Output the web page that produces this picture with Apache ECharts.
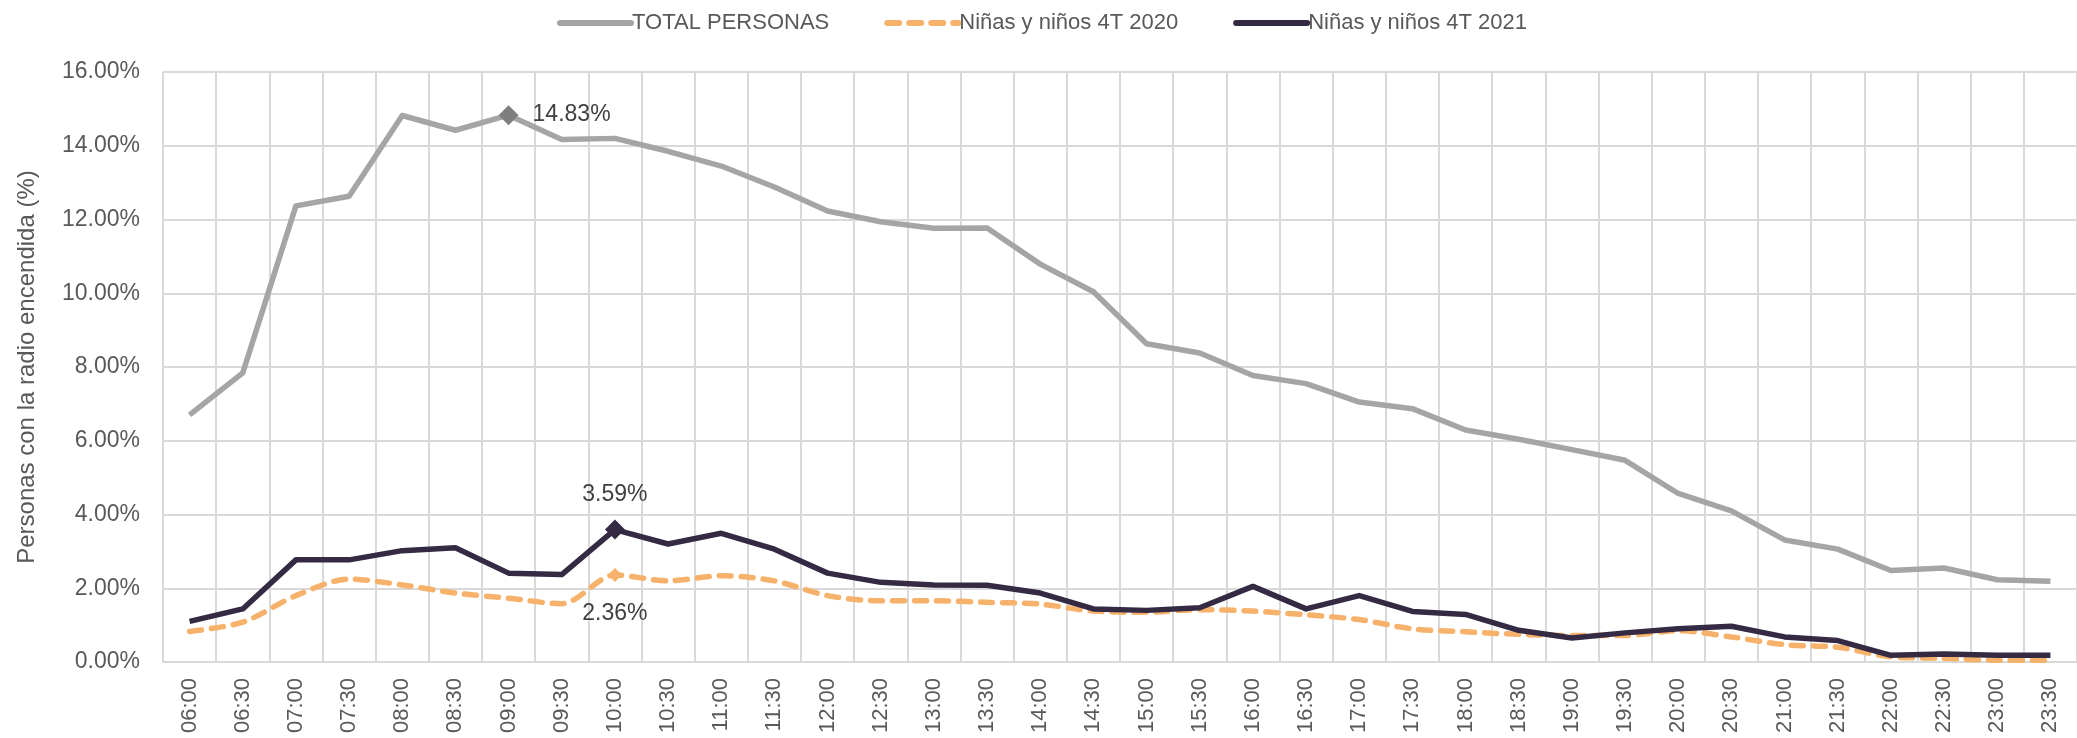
<!DOCTYPE html>
<html>
<head>
<meta charset="utf-8">
<script src="https://cdn.jsdelivr.net/npm/echarts@6/dist/echarts.min.js"></script>
<style>
  html, body { margin: 0; padding: 0; background: #fff; }
  #chart { width: 2077px; height: 738px; }
</style>
</head>
<body>
<div id="chart"></div>
<script>
// franjas horarias
var horas = ['06:00','06:30','07:00','07:30','08:00','08:30','09:00','09:30','10:00','10:30',
  '11:00','11:30','12:00','12:30','13:00','13:30','14:00','14:30','15:00','15:30',
  '16:00','16:30','17:00','17:30','18:00','18:30','19:00','19:30','20:00','20:30',
  '21:00','21:30','22:00','22:30','23:00','23:30'];

var totalPersonas = [6.70, 7.84, 12.37, 12.63, 14.82, 14.42, 14.83, 14.17, 14.20, 13.85,
  13.45, 12.88, 12.23, 11.94, 11.76, 11.77, 10.79, 10.04, 8.63, 8.38,
  7.77, 7.55, 7.05, 6.87, 6.29, 6.04, 5.76, 5.47, 4.57, 4.10,
  3.31, 3.06, 2.48, 2.55, 2.23, 2.19];

var ninos2020 = [0.83, 1.08, 1.80, 2.25, 2.09, 1.87, 1.73, 1.58, 2.36, 2.20,
  2.34, 2.20, 1.80, 1.66, 1.66, 1.62, 1.57, 1.38, 1.35, 1.42,
  1.38, 1.28, 1.15, 0.90, 0.82, 0.75, 0.72, 0.72, 0.85, 0.68,
  0.47, 0.40, 0.14, 0.10, 0.05, 0.05];

var ninos2021 = [1.10, 1.44, 2.77, 2.77, 3.02, 3.10, 2.41, 2.37, 3.59, 3.20,
  3.49, 3.06, 2.41, 2.16, 2.09, 2.08, 1.87, 1.44, 1.40, 1.47,
  2.05, 1.44, 1.80, 1.37, 1.29, 0.86, 0.65, 0.79, 0.90, 0.97,
  0.68, 0.58, 0.18, 0.22, 0.18, 0.18];

var yTicks = [0, 2, 4, 6, 8, 10, 12, 14, 16];

var fuente = 'Liberation Sans';

// marca un punto destacado con rombo + etiqueta
function destacar(valores, idx, marca, etiqueta) {
  return valores.map(function (v, i) {
    if (i !== idx) return v;
    return {
      value: v,
      symbol: 'diamond',
      symbolSize: marca.size,
      itemStyle: { color: marca.color },
      label: Object.assign({
        show: true,
        formatter: function (p) { return p.value.toFixed(2) + '%'; },
        color: '#404040',
        fontFamily: fuente,
        fontSize: 23
      }, etiqueta)
    };
  });
}

var chart = echarts.init(document.getElementById('chart'));

var option = {
  backgroundColor: '#ffffff',
  animation: false,
  legend: {
    left: 552,
    top: 7,
    itemWidth: 71,
    itemHeight: 14,
    itemGap: 55,
    itemStyle: { opacity: 0 },
    lineStyle: { width: 6, cap: 'round' },
    textStyle: { color: '#595959', fontFamily: fuente, fontSize: 22, padding: [0, 0, 0, -4] },
    data: ['TOTAL PERSONAS', 'Niñas y niños 4T 2020', 'Niñas y niños 4T 2021']
  },
  grid: { left: 163, top: 72, width: 1921, height: 590 },
  xAxis: {
    type: 'category',
    data: horas,
    boundaryGap: true,
    axisLine: { lineStyle: { color: '#D9D9D9', width: 2 } },
    axisTick: { show: false },
    splitLine: { show: true, interval: 0, lineStyle: { color: '#D9D9D9', width: 2 } },
    axisLabel: {
      interval: 0,
      rotate: 90,
      margin: 16,
      color: '#595959',
      fontFamily: fuente,
      fontSize: 22
    }
  },
  yAxis: {
    type: 'value',
    min: 0,
    max: yTicks[yTicks.length - 1],
    interval: 2,
    name: 'Personas con la radio encendida (%)',
    nameLocation: 'middle',
    nameGap: 124,
    nameTextStyle: { color: '#595959', fontFamily: fuente, fontSize: 24 },
    axisLine: { show: false },
    axisTick: { show: false },
    splitLine: { lineStyle: { color: '#D9D9D9', width: 2 } },
    axisLabel: {
      margin: 23,
      color: '#595959',
      fontFamily: fuente,
      fontSize: 23,
      formatter: function (v) { return v.toFixed(2) + '%'; }
    }
  },
  series: [
    {
      name: 'TOTAL PERSONAS',
      type: 'line',
      symbol: 'none',
      color: '#A5A5A5',
      lineStyle: { color: '#A5A5A5', width: 5.5, join: 'round' },
      data: destacar(totalPersonas, 6, { size: 20, color: '#7F7F7F' }, { position: 'right', distance: 14 }),
      z: 2
    },
    {
      name: 'Niñas y niños 4T 2020',
      type: 'line',
      symbol: 'none',
      smooth: 0.3,
      color: '#F6B26B',
      lineStyle: { color: '#F6B26B', width: 5.5, type: [12, 10], cap: 'round' },
      data: destacar(ninos2020, 8, { size: 14, color: '#F6B26B' }, { position: 'bottom', distance: 20 }),
      z: 3
    },
    {
      name: 'Niñas y niños 4T 2021',
      type: 'line',
      symbol: 'none',
      color: '#352A44',
      lineStyle: { color: '#352A44', width: 5.5, join: 'round' },
      data: destacar(ninos2021, 8, { size: 20, color: '#352A44' }, { position: 'top', distance: 13 }),
      z: 4
    }
  ]
};

chart.setOption(option);
</script>
</body>
</html>
